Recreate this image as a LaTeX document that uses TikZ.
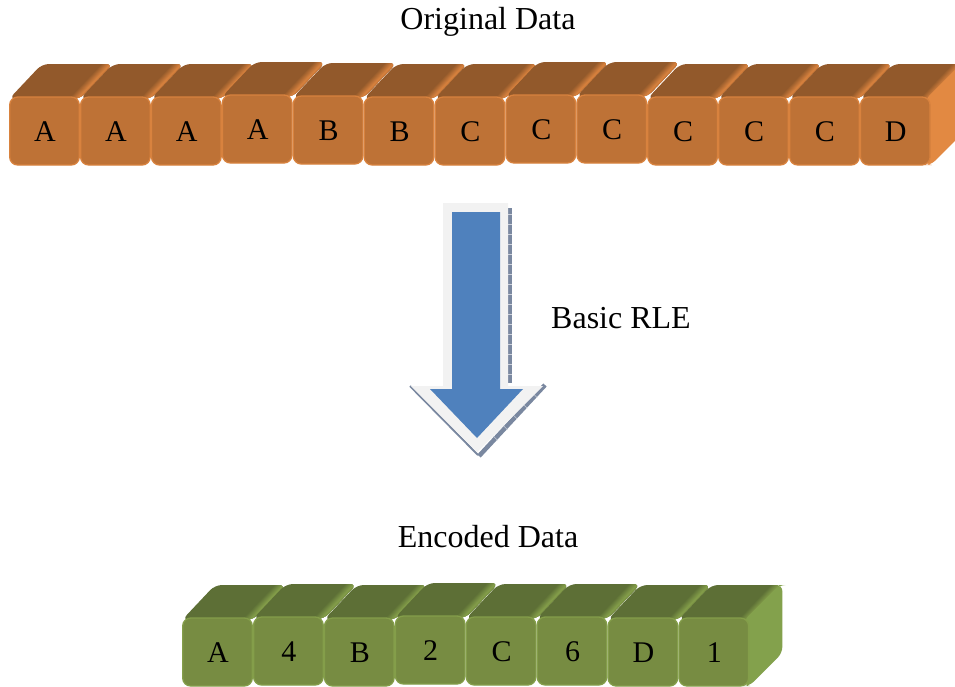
\documentclass[tikz,border=0pt]{standalone}
\usepackage{fontspec}
\setmainfont{Liberation Serif}
\usetikzlibrary{calc}

\definecolor{orFront}{RGB}{190,114,54}
\definecolor{orTop}{RGB}{146,89,43}
\definecolor{orSide}{RGB}{226,137,66}
\definecolor{orEdge}{RGB}{216,130,62}
\definecolor{grFront}{RGB}{119,140,66}
\definecolor{grTop}{RGB}{93,111,54}
\definecolor{grSide}{RGB}{131,161,76}
\definecolor{grEdge}{RGB}{132,158,74}
\definecolor{arrBlue}{RGB}{79,129,189}
\definecolor{arrRim}{RGB}{242,242,242}
\definecolor{arrShadow}{RGB}{122,136,160}

\tikzset{
  caption/.style={font=\fontsize{32}{38}\selectfont, inner sep=0pt},
  celltext/.style={font=\fontsize{30}{34}\selectfont, inner sep=0pt},
}

% #1 left x of front face, #2 top y of front face, #3 colour prefix,
% #4 text, #5 node name, #6 1 if the right side face shows
\newcommand\drawblock[6]{%
  % top face
  \fill[#3Top, rounded corners=7pt]
    (#1,#2+2) -- (#1+33,#2-33) -- (#1+104,#2-33) -- (#1+71,#2+2) -- cycle;
  % rounded highlight along the right edge of the top face
  \begin{scope}
    \clip[rounded corners=7pt]
      (#1,#2+2) -- (#1+33,#2-33) -- (#1+104,#2-33) -- (#1+71,#2+2) -- cycle;
    \foreach \k in {0,...,11}{
      \pgfmathtruncatemacro\pc{\k<9 ? \k*11 : 100-(\k-9)*12}
      \draw[line width=1.3pt, #3Edge!\pc!#3Top]
        (#1+60+\k,#2+2) -- (#1+95+\k,#2-35);
    }
  \end{scope}
  % side face
  \ifnum#6=1
    \fill[#3Side, rounded corners=6pt]
      (#1+66,#2+2) -- (#1+101,#2-33) -- (#1+104,#2-33) -- (#1+104,#2+35)
      -- (#1+71,#2+68) -- (#1+66,#2+68) -- cycle;
  \fi
  % front face
  \filldraw[fill=#3Front, draw=#3Edge, line width=1.3pt, rounded corners=8pt]
    (#1+0.7,#2) rectangle (#1+70.3,#2+68);
  \node[celltext] (#5) at (#1+36,#2+35) {#4};
}

\begin{document}
\begin{tikzpicture}[x=1pt,y=-1pt]
  \clip (0,0) rectangle (955,686);
  \fill[white] (0,0) rectangle (955,686);

  % captions
  \node[caption] (orig) at (488,22) {Original Data};
  \node[caption] (rle)  at (621,318) {Basic RLE};
  \node[caption] (enc)  at (488,537) {Encoded Data};

  % original data: row of orange blocks
  \foreach \lab/\dy [count=\i from 0] in
      {A/0,A/0,A/0,A/-2,B/-1,B/0,C/0,C/-2,C/-2,C/0,C/0,C/0,D/0}{
    \pgfmathsetmacro\xx{9+70.9*\i}
    \pgfmathsetmacro\yy{97+\dy}
    \ifnum\i=12
      \drawblock{\xx}{\yy}{or}{\lab}{o\i}{1}
    \else
      \drawblock{\xx}{\yy}{or}{\lab}{o\i}{0}
    \fi
  }

  % encoding arrow with its soft shadow
  \fill[arrShadow] (508,208) rectangle (512,383);
  \foreach \t in {214,224,...,374}
    \draw[white!60!arrShadow, line width=0.5pt] (508,\t) -- (512,\t);
  \draw[arrShadow, line width=2pt] (410,386) -- (478,455);
  \draw[arrShadow, line width=4.5pt] (545,385) -- (479,456);
  \foreach \s in {0.15,0.3,...,0.9}
    \draw[white!55!arrShadow, line width=0.5pt]
      ($(545,385)!\s!(479,456)+(-2,-2)$) -- ++(4,4);
  \fill[arrRim] (443,203) -- (508,203) -- (508,386) -- (543,386)
    -- (477,452) -- (411,386) -- (443,386) -- cycle;
  \fill[arrBlue] (452,212) -- (500,212) -- (500,389) -- (523,389)
    -- (477,438) -- (430,389) -- (452,389) -- cycle;

  % encoded data: row of green blocks
  \foreach \lab/\dy [count=\i from 0] in
      {A/0,4/-1,B/0,2/-2,C/-1,6/-1,D/0,1/0}{
    \pgfmathsetmacro\xx{182+70.9*\i}
    \pgfmathsetmacro\yy{618+\dy}
    \ifnum\i=7
      \drawblock{\xx}{\yy}{gr}{\lab}{e\i}{1}
    \else
      \drawblock{\xx}{\yy}{gr}{\lab}{e\i}{0}
    \fi
  }
\end{tikzpicture}
\end{document}
